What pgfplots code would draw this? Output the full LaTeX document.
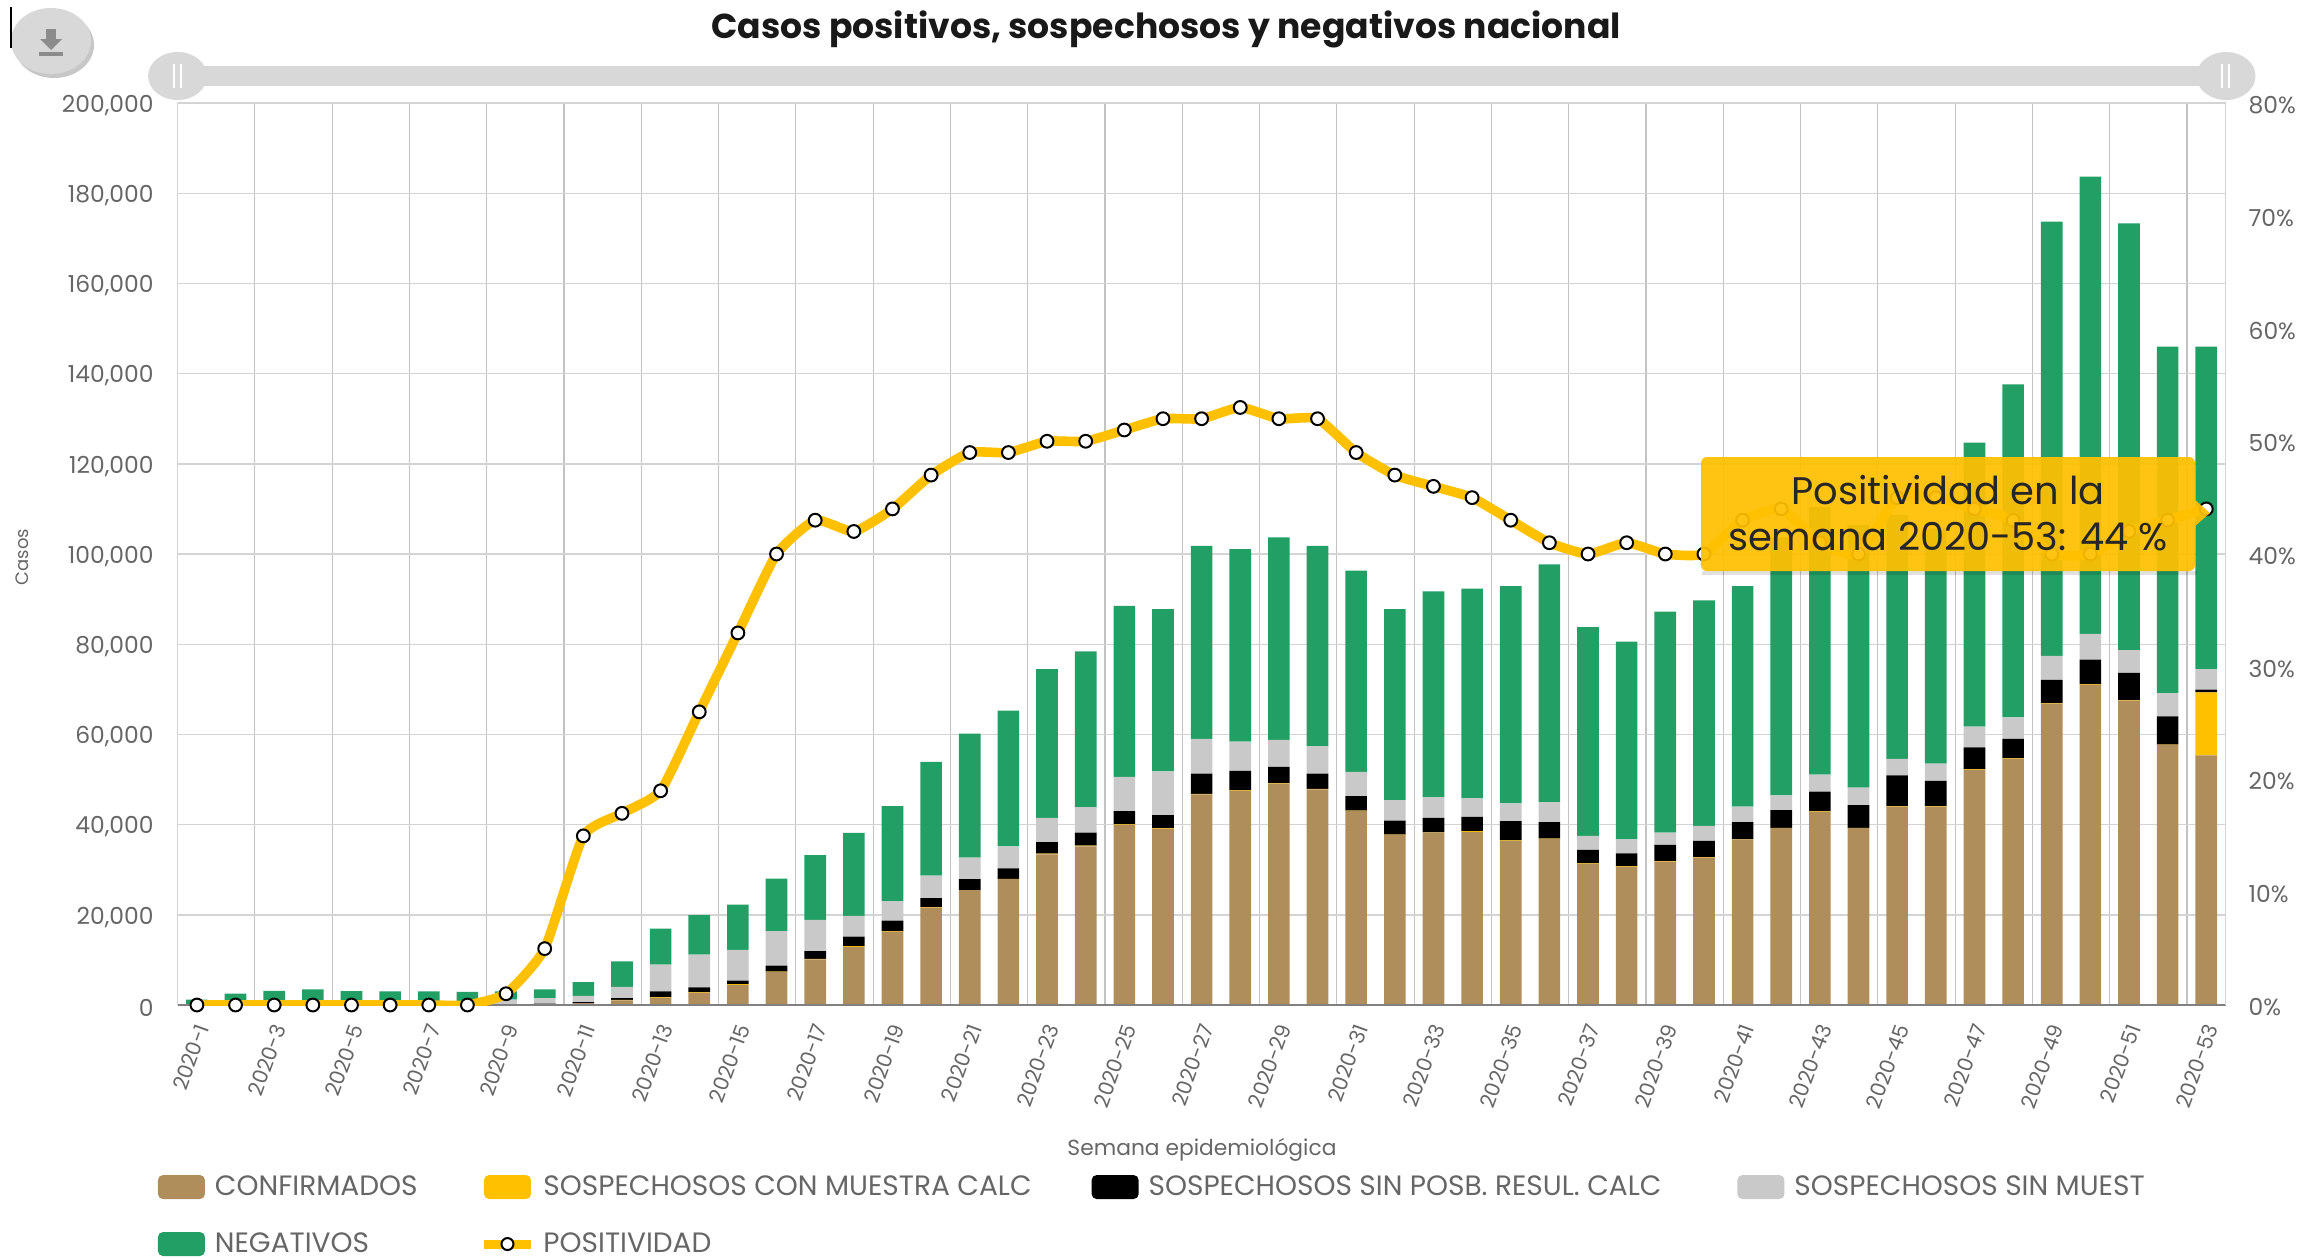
\documentclass[border=0pt]{standalone}
\usepackage{pgfplots}
\usepackage{pgfplotstable}
\usepackage{fontspec}
\pgfplotsset{compat=1.18}
\setmainfont{Poppins}
\definecolor{cBrown}{HTML}{B08E5C}
\definecolor{cYellow}{HTML}{FFC000}
\definecolor{cGray}{HTML}{C9C9C9}
\definecolor{cGreen}{HTML}{219F64}
\definecolor{cText}{HTML}{666666}
\definecolor{cGrid}{HTML}{D4D4D4}
\definecolor{cHandle}{HTML}{D8D8D8}
\pgfplotstableread{
i conf yel blk gry neg pos
0 0 0 0 0 1200 0
1 0 0 0 0 2500 0
2 0 0 0 0 3150 0
3 0 0 0 0 3450 0
4 0 0 0 0 3080 0
5 0 0 0 0 3000 0
6 0 0 0 0 3000 0
7 0 0 0 0 2900 0
8 100 0 100 970 1830 1
9 150 0 150 1240 1910 5
10 370 0 290 1390 3010 15
11 1030 100 410 2500 5660 17
12 1540 150 1310 5950 8000 19
13 2640 150 1110 7300 8750 26
14 4480 150 800 6820 9990 33
15 7270 150 1310 7640 11630 40
16 10100 150 1710 6940 14350 43
17 12900 150 2100 4600 18420 42
18 16200 150 2350 4350 21050 44
19 21580 150 1970 5000 25200 47
20 25450 50 2400 4800 27450 49
21 27900 50 2350 4900 30100 49
22 33400 150 2550 5400 33000 50
23 35200 150 2850 5700 34500 50
24 39900 150 2950 7600 37900 51
25 39000 150 2950 9700 36000 52
26 46700 100 4500 7700 42800 52
27 47500 100 4300 6500 42700 53
28 49100 100 3600 6000 44900 52
29 47800 100 3400 6100 44400 52
30 43000 100 3200 5400 44600 49
31 37700 100 3100 4550 42350 47
32 38200 100 3200 4600 45600 46
33 38400 150 3150 4150 46450 45
34 36400 100 4300 3900 48200 43
35 36800 100 3650 4450 52700 41
36 31300 100 3000 3100 46300 40
37 30600 150 2900 3050 43900 41
38 31800 100 3600 2750 48950 40
39 32700 100 3600 3300 50000 40
40 36700 100 3750 3450 48900 43
41 39200 100 3900 3300 57200 44
42 42850 100 4350 3800 59300 41
43 39200 100 5000 3900 58200 40
44 44000 100 6800 3700 54000 45
45 44000 100 5600 3800 52200 45
46 52100 150 4850 4600 63000 44
47 54600 100 4300 4800 73800 43
48 66850 100 5150 5300 96300 40
49 71000 100 5500 5700 101400 40
50 67500 100 6050 5050 94600 42
51 57650 100 6250 5150 76850 43
52 55350 13950 650 4550 71500 44
}\datatable
\pgfplotsset{
  swatch/.style={legend image code/.code={
    \fill[##1,rounded corners=2.5pt] (0pt,-6pt) rectangle (23.5pt,6pt);}},
  common/.style={
    scale only axis, width=1024pt, height=451pt,
    at={(88.8pt,-502.5pt)}, anchor=south west,
    xmin=-0.5, xmax=52.5,
    tick style={draw=none},
    tick label style={font=\fontsize{11.7}{13}\selectfont, text=cText},
    /pgf/number format/assume math mode=true,
    /pgf/number format/1000 sep={,},
    /pgf/number format/fixed,
  }
}
\begin{document}
\begin{tikzpicture}
\path[use as bounding box] (0,0) rectangle (1150.5pt,-629pt);
\begin{axis}[common,
  ymin=0, ymax=200000,
  ytick={0,20000,...,200000},
  scaled y ticks=false,
  axis y line*=left,
  axis x line*=bottom,
  axis line style={draw=cGrid, line width=0.7pt},
  ymajorgrids, major grid style={draw=cGrid, line width=0.7pt},
  xminorgrids, minor grid style={draw=cGrid!92!black, line width=0.6pt},
  minor xtick={-0.5,1.5,...,52.5},
  minor tick length=0pt,
  xtick={0,2,...,52},
  xticklabels={2020-1,2020-3,2020-5,2020-7,2020-9,2020-11,2020-13,2020-15,2020-17,2020-19,2020-21,2020-23,2020-25,2020-27,2020-29,2020-31,2020-33,2020-35,2020-37,2020-39,2020-41,2020-43,2020-45,2020-47,2020-49,2020-51,2020-53},
  x tick label style={rotate=70, anchor=east, font=\fontsize{10.4}{11}\selectfont, xshift=-5pt, yshift=-6pt},
  yticklabel style={xshift=-8.5pt, yshift=-1.2pt},
  ybar stacked, bar width=0.56,
  legend style={at={(-0.0096,-0.1885)}, anchor=north west, draw=none, fill=none,
    inner sep=0pt, outer sep=0pt, font=\fontsize{14}{16}\selectfont, text=cText,
    row sep=16.5pt,
    nodes={inner sep=0pt}},
  legend cell align=left,
  legend columns=4,
  after end axis/.code={\draw[draw=gray, line width=0.8pt] (rel axis cs:0,0) -- (rel axis cs:1,0);
    \draw[draw=cGrid, line width=0.7pt] (rel axis cs:0,1) -- (rel axis cs:1,1);},
]
\addplot[fill=cBrown, draw=none, swatch] table[x=i,y=conf] {\datatable};
\addlegendentry{\hspace{5pt}CONFIRMADOS\rule{31pt}{0pt}}
\addplot[fill=cYellow, draw=none, swatch] table[x=i,y=yel] {\datatable};
\addlegendentry{\hspace{4pt}SOSPECHOSOS CON MUESTRA CALC\rule{30pt}{0pt}}
\addplot[fill=black, draw=none, swatch] table[x=i,y=blk] {\datatable};
\addlegendentry{\hspace{5pt}SOSPECHOSOS SIN POSB. RESUL. CALC\rule{38pt}{0pt}}
\addplot[fill=cGray, draw=none, swatch] table[x=i,y=gry] {\datatable};
\addlegendentry{\hspace{5pt}SOSPECHOSOS SIN MUEST}
\addplot[fill=cGreen, draw=none, swatch] table[x=i,y=neg] {\datatable};
\addlegendentry{\hspace{5pt}NEGATIVOS}
\addlegendimage{legend image code/.code={
  \draw[draw=cYellow, line width=4.5pt] (0pt,0pt) -- (23.5pt,0pt);
  \draw[draw=black, fill=white, line width=1pt] (11.75pt,0pt) circle (3pt);}}
\addlegendentry{\hspace{4pt}POSITIVIDAD}
\end{axis}
\begin{axis}[common,
  ymin=0, ymax=80,
  ytick={0,10,...,80},
  yticklabel={\pgfmathprintnumber{\tick}\%},
  yticklabel style={xshift=8pt, yshift=-1pt},
  axis y line*=right,
  axis x line=none,
  axis line style={draw=cGrid, line width=0.7pt},
]
\addplot[draw=cYellow, line width=4.8pt, smooth, tension=0.3,
  mark=*, mark size=3.2pt,
  mark options={draw=black, fill=white, line width=1pt, solid}]
  table[x=i,y=pos] {\datatable};
\end{axis}
\begin{scope}[x=0.5pt,y=-0.5pt]
  \node[font=\fontsize{17.3}{19}\selectfont\bfseries, text=black!90] at (1166,29)
    {Casos positivos, sospechosos y negativos nacional};
  \node[font=\fontsize{9}{11}\selectfont, text=cText, rotate=90] at (22,557) {Casos};
  \node[font=\fontsize{10.9}{13}\selectfont, text=cText] at (1202,1150) {Semana epidemiológica};
  % slider
  \fill[cHandle] (177,66) rectangle (2226,86);
  \fill[cHandle] (177.6,76) ellipse [x radius=29.5, y radius=24];
  \fill[cHandle] (2226,76) ellipse [x radius=29.5, y radius=24];
  \draw[white, line width=0.6pt] (174,64) -- (174,88) (181,64) -- (181,88)
     (2222,64) -- (2222,88) (2229,64) -- (2229,88);
  % download button
  \fill[black, opacity=0.22] (54,45) ellipse [x radius=40, y radius=33];
  \fill[cHandle] (51,41) ellipse [x radius=40, y radius=33];
  \fill[gray!90] (46,29) rectangle (56,39);
  \fill[gray!90] (40,39) -- (62,39) -- (51,50) -- cycle;
  \fill[gray!90] (39,52) rectangle (63,56);
  \draw[black, line width=0.9pt] (11,7) -- (11,48);
  % tooltip
  \fill[black, opacity=0.12] (1702,571) rectangle (2197,575);
  \fill[cYellow, opacity=0.93, rounded corners=3pt]
     (1701,457) rectangle (2195,571);
  \fill[cYellow, opacity=0.93] (2195,500) -- (2210,513) -- (2195,526) -- cycle;
  \node[font=\fontsize{19.2}{22}\selectfont, text=black!85] at (1948,490) {Positividad en la};
  \node[font=\fontsize{19.2}{22}\selectfont, text=black!85] at (1948,537) {semana 2020-53: 44 \%};
\end{scope}
\end{tikzpicture}
\end{document}
